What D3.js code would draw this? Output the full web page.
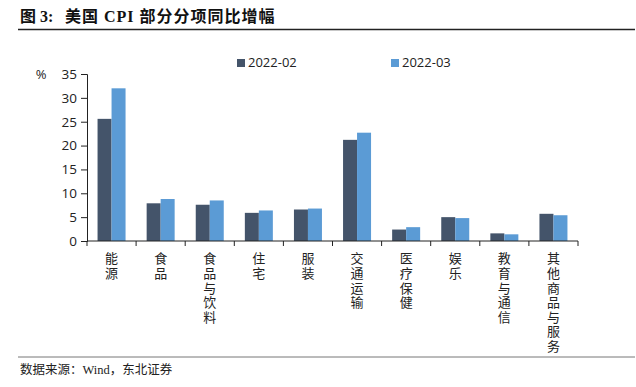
<!DOCTYPE html>
<html>
<head>
<meta charset="utf-8">
<script src="https://cdn.jsdelivr.net/npm/d3@7"></script>
<style>
  body { margin: 0; background: #fff; }
  svg { display: block; }
</style>
</head>
<body>
<svg id="chart" width="636" height="387"></svg>
<script>
const categories = ["能源", "食品", "食品与饮料", "住宅", "服装", "交通运输", "医疗保健", "娱乐", "教育与通信", "其他商品与服务"];
const seriesNames = ["2022-02", "2022-03"];
const feb = [25.6, 7.9, 7.6, 5.9, 6.6, 21.2, 2.4, 5.0, 1.6, 5.7];
const mar = [32.0, 8.8, 8.5, 6.4, 6.8, 22.7, 2.9, 4.8, 1.4, 5.4];
const yTicks = [0, 5, 10, 15, 20, 25, 30, 35];
const colors = ["#44546A", "#5B9BD5"];

const SVG = d3.select("#chart");
const CJK = "'Noto Sans CJK SC', 'Noto Sans', sans-serif";
const SERIF = "'Liberation Serif', 'Noto Sans CJK SC', serif";

// title + rules
const title = SVG.append("text")
    .attr("y", 22)
    .attr("font-family", SERIF)
    .attr("font-weight", "bold")
    .attr("font-size", 16)
    .attr("fill", "#111");
title.append("tspan").attr("x", 20).text("图 3:");
title.append("tspan").attr("x", 65).style("letter-spacing", "1px").text("美国 CPI 部分分项同比增幅");
SVG.append("line")
    .attr("x1", 18).attr("x2", 635).attr("y1", 29.5).attr("y2", 29.5)
    .attr("stroke", "#222").attr("stroke-width", 1.5);
SVG.append("line")
    .attr("x1", 18).attr("x2", 635).attr("y1", 357).attr("y2", 357)
    .attr("stroke", "#777").attr("stroke-width", 1);
SVG.append("text")
    .attr("x", 20).attr("y", 374)
    .attr("font-family", SERIF)
    .attr("font-size", 12.5)
    .attr("fill", "#222")
    .text("数据来源：Wind，东北证券");

// scales
const x = d3.scaleBand().domain(categories).range([87, 578]);
const sub = d3.scaleBand().domain(seriesNames).range([0, 28]);
const y = d3.scaleLinear().domain([0, 35]).range([241, 74]);

const g = SVG.append("g");

// bars
const rows = categories.map((c, i) => ({ cat: c, vals: [feb[i], mar[i]] }));
const grp = g.selectAll("g.cat")
    .data(rows)
    .join("g")
    .attr("class", "cat")
    .attr("transform", d => `translate(${x(d.cat) + x.bandwidth() / 2 - 14},0)`);
grp.selectAll("rect")
    .data(d => d.vals.map((v, k) => ({ v, k })))
    .join("rect")
    .attr("x", d => sub(seriesNames[d.k]))
    .attr("y", d => y(d.v))
    .attr("width", sub.bandwidth())
    .attr("height", d => y(0) - y(d.v))
    .attr("fill", d => colors[d.k]);

// y axis
const yAxis = g.append("g")
    .attr("transform", "translate(87,0)")
    .call(d3.axisLeft(y).tickValues(yTicks).tickSize(6).tickPadding(4));
yAxis.select(".domain").attr("stroke", "#222");
yAxis.selectAll(".tick line").attr("stroke", "#222");
yAxis.selectAll("text")
    .attr("font-family", "'Open Sans', 'DejaVu Sans', sans-serif")
    .attr("font-size", 13.5)
    .attr("fill", "#222");
g.append("text")
    .attr("x", 41).attr("y", y(35) + 5)
    .attr("text-anchor", "middle")
    .attr("font-family", "'Open Sans', sans-serif")
    .attr("font-size", 13)
    .attr("fill", "#222")
    .text("%");

// x axis
const xAxis = g.append("g").attr("transform", `translate(0,${y(0)})`);
xAxis.append("line")
    .attr("x1", 87).attr("x2", 578)
    .attr("stroke", "#222");
xAxis.selectAll("line.tk")
    .data(d3.range(categories.length + 1))
    .join("line")
    .attr("class", "tk")
    .attr("x1", i => 87 + i * x.step()).attr("x2", i => 87 + i * x.step())
    .attr("y1", 0).attr("y2", 5)
    .attr("stroke", "#222");

// vertical category labels
g.selectAll("text.cat")
    .data(categories)
    .join("text")
    .attr("class", "cat")
    .attr("x", d => x(d) + x.bandwidth() / 2)
    .attr("y", 252)
    .style("writing-mode", "vertical-rl")
    .style("letter-spacing", "1.6px")
    .attr("font-family", CJK)
    .attr("font-size", 13)
    .attr("fill", "#222")
    .text(d => d);

// legend
const legendX = [237, 391];
const leg = SVG.selectAll("g.leg")
    .data(seriesNames)
    .join("g")
    .attr("class", "leg")
    .attr("transform", (d, i) => `translate(${legendX[i]},59)`);
leg.append("rect")
    .attr("width", 8).attr("height", 8)
    .attr("fill", (d, i) => colors[i]);
leg.append("text")
    .attr("x", 11).attr("y", 8)
    .attr("font-family", "'Open Sans', sans-serif")
    .attr("font-size", 13)
    .attr("fill", "#222")
    .text(d => d);
</script>
</body>
</html>
